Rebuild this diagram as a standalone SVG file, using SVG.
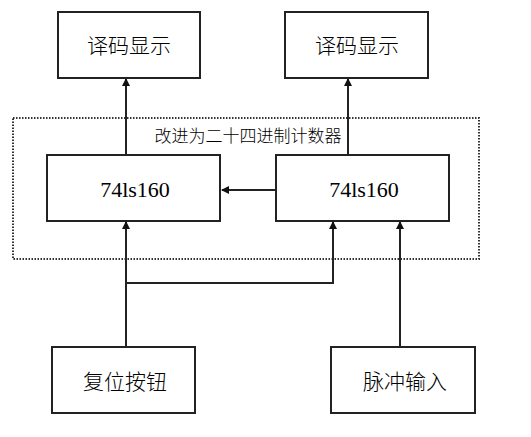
<svg xmlns="http://www.w3.org/2000/svg" width="531" height="437" viewBox="0 0 531 437">
<style>
.box{fill:#fff;stroke:#222;stroke-width:2}
.cn{font-family:"Noto Sans CJK SC","Noto Sans",sans-serif;fill:#000;font-weight:300}
.sf{font-family:"Liberation Serif",serif;fill:#000}
.ln{fill:none;stroke:#222;stroke-width:2}
</style>
<defs>
<marker id="ah" markerWidth="8" markerHeight="8" refX="7" refY="4" orient="auto" markerUnits="userSpaceOnUse">
<path d="M0,0 L8,4 L0,8 Z" fill="#111"/>
</marker>
</defs>
<rect x="13" y="118" width="466" height="141" fill="none" stroke="#333" stroke-width="2" stroke-dasharray="1.5,1.5"/>
<g id="connectors">
<path class="ln" d="M126,155 V79" marker-end="url(#ah)"/>
<path class="ln" d="M348,155 V79" marker-end="url(#ah)"/>
<path class="ln" d="M276,190 H222" marker-end="url(#ah)"/>
<path class="ln" d="M126,347 V222" marker-end="url(#ah)"/>
<path class="ln" d="M126,283 H333 V222" marker-end="url(#ah)"/>
<path class="ln" d="M400,347 V222" marker-end="url(#ah)"/>
</g>
<g id="label"><text class="cn" x="248" y="142" font-size="17" text-anchor="middle">改进为二十四进制计数器</text></g>
<g id="disp1"><rect class="box" x="58" y="12" width="142" height="66"/><text class="cn" x="129" y="53" font-size="21" text-anchor="middle">译码显示</text></g>
<g id="disp2"><rect class="box" x="285" y="12" width="143" height="66"/><text class="cn" x="357" y="53" font-size="21" text-anchor="middle">译码显示</text></g>
<g id="cnt1"><rect class="box" x="47" y="155" width="173" height="66"/><text class="sf" x="135" y="197" font-size="22" text-anchor="middle">74ls160</text></g>
<g id="cnt2"><rect class="box" x="276" y="155" width="173" height="66"/><text class="sf" x="364" y="197" font-size="22" text-anchor="middle">74ls160</text></g>
<g id="reset"><rect class="box" x="52" y="347" width="143" height="66"/><text class="cn" x="125" y="389" font-size="21" text-anchor="middle">复位按钮</text></g>
<g id="pulse"><rect class="box" x="331" y="347" width="144" height="66"/><text class="cn" x="405" y="389" font-size="21" text-anchor="middle">脉冲输入</text></g>
</svg>
